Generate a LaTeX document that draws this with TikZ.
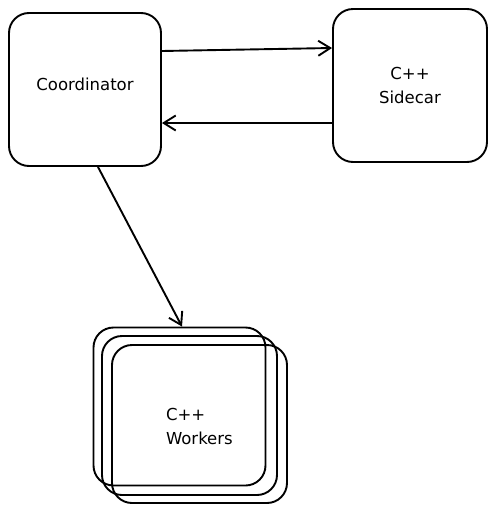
\documentclass[tikz,border=0pt]{standalone}
\usepackage{fontspec}
\setmainfont{DejaVu Sans}
\usetikzlibrary{positioning}
\usetikzlibrary{arrows.meta}

\begin{document}
\begin{tikzpicture}[x=1pt, y=-1pt,
    box/.style={draw, line width=1.9pt, rounded corners=20pt, minimum width=#1, minimum height=153pt, inner sep=0pt},
    box/.default=152pt,
    link/.style={line width=1.9pt, -{Straight Barb[length=12pt, width=15pt, line width=1.9pt]}},
    lbl/.style={font=\fontsize{16.5}{24}\selectfont, align=center}]
     \useasboundingbox (0,0) rectangle (495,512);
     \node[box] (coord) at (85,89.5) {};
     \node[lbl] (coordtext) at ([yshift=5pt]coord) {Coordinator};
     \node[box=154pt] (sidecar) at (410,85.5) {};
     \node[lbl] at (sidecar) {C++\\Sidecar};
     % stacked workers
     \node[box=172pt, minimum height=158pt] (workersA) at (179.5,406.5) {};
     \node[box=175pt, minimum height=159pt] (workersB) at (189.5,415.5) {};
     \node[box=175pt, minimum height=158pt] (workersC) at (199.5,424) {};
     \node[lbl, align=left, anchor=west] at ([xshift=-37pt, yshift=-2pt]workersC) {C++\\Workers};
     \draw[link] ([yshift=38.5pt]coord.east) -- ([yshift=37.5pt]sidecar.west);
     \draw[link] ([yshift=-37.5pt]sidecar.west) -- ([yshift=-33.5pt]coord.east);
     \draw[link] ([xshift=13pt]coord.south) -- ([xshift=2.5pt]workersA.north);
\end{tikzpicture}
\end{document}
